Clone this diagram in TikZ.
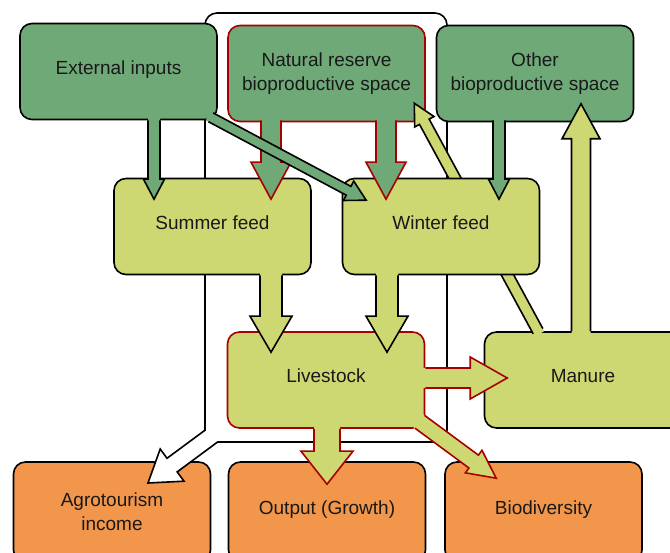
\documentclass[tikz,border=0pt]{standalone}
\usepackage{fontspec}
\setsansfont{Liberation Sans}
\usepackage{tikz}
\usetikzlibrary{calc}
\definecolor{darkleaf}{HTML}{70A978}
\definecolor{lightleaf}{HTML}{CED873}
\definecolor{clay}{HTML}{F1964B}
\definecolor{rim}{HTML}{A80000}
\tikzset{
box/.style={rectangle, rounded corners=12pt, line width=1.6pt, minimum width=197pt, minimum height=96pt, align=center, text=black!90, font=\sffamily\fontsize{19}{24}\selectfont},
oneline/.style={text depth=8pt},
source/.style={box, draw=black, fill=darkleaf},
reserve/.style={box, draw=rim, fill=darkleaf},
feed/.style={box, draw=black, fill=lightleaf},
herd/.style={box, draw=rim, fill=lightleaf},
result/.style={box, draw=black, fill=clay, minimum height=100pt},
darkflow/.style={fill=darkleaf, draw=black, line width=1.6pt},
rimflow/.style={fill=darkleaf, draw=rim, line width=1.6pt},
lightflow/.style={fill=lightleaf, draw=black, line width=1.6pt},
herdflow/.style={fill=lightleaf, draw=rim, line width=1.6pt},
framewhite/.style={fill=white, draw=black, line width=1.6pt}
}
\newcommand{\fatarrow}[6]{
\coordinate (fs) at (#2);
\coordinate (ft) at (#3);
\coordinate (fh) at ($(ft)!#6!(fs)$);
\coordinate (fb) at ($(fs)!-3pt!(ft)$);
\path[#1, draw=none] ($(fb)!#4!90:(ft)$) -- ($(fh)!#4!90:(ft)$) -- ($(fh)!#5!90:(ft)$) -- (ft) -- ($(fh)!#5!-90:(ft)$) -- ($(fh)!#4!-90:(ft)$) -- ($(fb)!#4!-90:(ft)$) -- cycle;
\path[#1, fill=none] ($(fs)!#4!90:(ft)$) -- ($(fh)!#4!90:(ft)$) -- ($(fh)!#5!90:(ft)$) -- (ft) -- ($(fh)!#5!-90:(ft)$) -- ($(fh)!#4!-90:(ft)$) -- ($(fs)!#4!-90:(ft)$);
}
\begin{document}
\begin{tikzpicture}[x=1pt, y=-1pt]
\useasboundingbox (0,0) rectangle (670,553);
\clip (0,0) rectangle (670,553);
\node[result]  at (112, 512)    (agro) {Agrotourism\\income};
\draw[framewhite] (205,430.2) [rounded corners=12pt] -- (205,13) -- (447,13) -- (447,442) [sharp corners] -- (217.6,442) -- (177.2,471.9) -- (184,481.2) -- (148,483) -- (160.2,449) -- (167,458.3) -- cycle;
\node[source, oneline] at (118.5, 71.5) (ext) {External inputs};
\node[reserve] at (326.5, 73.5) (nat)  {Natural reserve\\bioproductive space};
\node[source]  at (535, 73.5)   (oth)  {Other\\bioproductive space};
\node[herd, oneline]   at (326, 380)   (liv) {Livestock};
\node[feed, oneline]   at (583, 380)   (man) {Manure};
\node[result, oneline] at (327, 512)   (out) {Output (Growth)};
\node[result, oneline] at (543.5, 512) (bio) {Biodiversity};
\fatarrow{lightflow}{$(man.north)+(-45,0)$}{$(nat.south east)+(-11.5,-19)$}{5.5pt}{11pt}{21pt}
\node[feed, oneline] at (212.5, 226.5) (sum) {Summer feed};
\node[feed, oneline] at (441, 226.5)   (win) {Winter feed};
\fatarrow{darkflow}{$(ext.south)+(35.5,0)$}{$(sum.north)+(-58.5,21.5)$}{6pt}{10.5pt}{20pt}
\fatarrow{rimflow}{$(nat.south)+(-55.5,-2)$}{$(sum.north)+(58.5,21.5)$}{10pt}{20pt}{37pt}
\fatarrow{darkflow}{$(ext.south east)+(-7,-3)$}{$(win.north west)+(24.5,22.5)$}{5pt}{11pt}{20pt}
\fatarrow{rimflow}{$(nat.south)+(59.5,-2)$}{$(win.north)+(-55,21.5)$}{10pt}{20pt}{37pt}
\fatarrow{darkflow}{$(oth.south)+(-36,-2)$}{$(win.north)+(58,21.5)$}{6pt}{10.5pt}{20pt}
\fatarrow{lightflow}{$(sum.south)+(58.5,0)$}{$(liv.north)+(-55,21)$}{11pt}{21pt}{36pt}
\fatarrow{lightflow}{$(win.south)+(-54,0)$}{$(liv.north)+(61,21)$}{11pt}{21pt}{36pt}
\fatarrow{lightflow}{$(man.north)+(-2,0)$}{$(oth.south)+(46,-18.5)$}{9.5pt}{19pt}{35pt}
\fatarrow{herdflow}{$(liv.east)+(0,-2)$}{$(man.west)+(23.5,-2)$}{10pt}{21pt}{37pt}
\fatarrow{herdflow}{$(liv.south)+(1,0)$}{$(out.north)+(0,23)$}{13pt}{26pt}{33pt}
\fatarrow{herdflow}{$(liv.south east)+(-5.5,-7)$}{$(bio.north west)+(52,17)$}{8pt}{14pt}{28pt}
\end{tikzpicture}
\end{document}
